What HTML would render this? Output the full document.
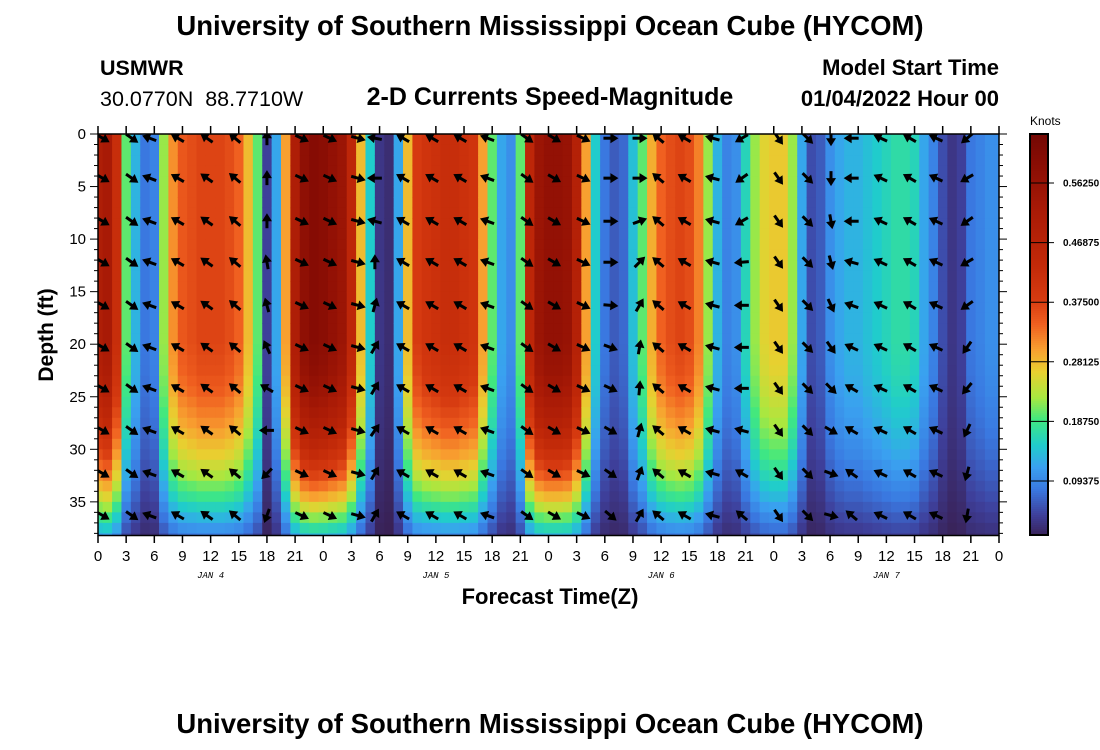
<!DOCTYPE html>
<html><head><meta charset="utf-8"><style>
body{margin:0;background:#fff;width:1100px;height:750px;overflow:hidden;font-family:"Liberation Sans",sans-serif}
svg{display:block}
</style></head><body>
<svg id="c" width="1100" height="750" font-family="Liberation Sans, sans-serif">
<text x="550" y="35" text-anchor="middle" font-size="27.5" font-weight="bold">University of Southern Mississippi Ocean Cube (HYCOM)</text>
<text x="100" y="75" font-size="21.5" font-weight="bold">USMWR</text>
<text x="100" y="106" font-size="21.5" xml:space="preserve" style="white-space:pre">30.0770N  88.7710W</text>
<text x="550" y="105" text-anchor="middle" font-size="25" font-weight="bold">2-D Currents Speed-Magnitude</text>
<text x="999" y="75" text-anchor="end" font-size="22" font-weight="bold">Model Start Time</text>
<text x="999" y="106" text-anchor="end" font-size="22" font-weight="bold">01/04/2022 Hour 00</text>
<text transform="translate(53,335) rotate(-90)" text-anchor="middle" font-size="21" font-weight="bold">Depth (ft)</text>
<text x="550" y="604" text-anchor="middle" font-size="22" font-weight="bold">Forecast Time(Z)</text>
<text x="1030" y="125" font-size="12">Knots</text>
<text x="550" y="733" text-anchor="middle" font-size="27.5" font-weight="bold">University of Southern Mississippi Ocean Cube (HYCOM)</text>
<defs><clipPath id="pc"><rect x="98" y="134" width="901" height="401.5"/></clipPath></defs>
<g id="heat" clip-path="url(#pc)"></g>
<g id="arrows" clip-path="url(#pc)"></g>
<g id="axes"></g>
<g id="cbar"></g>
</svg>
<script>
// hourly speed (knots) at mid depth, hours 0..96
const speeds=[.50,.52,.42,.2,.13,.08,.09,.22,.31,.35,.36,.37,.37,.37,.36,.34,.28,.2,.04,.12,.3,.5,.58,.6,.59,.57,.55,.45,.28,.15,.03,.02,.12,.28,.38,.40,.41,.42,.42,.41,.40,.30,.2,.12,.1,.2,.45,.55,.57,.57,.56,.48,.3,.15,.08,.06,.07,.14,.2,.29,.34,.36,.37,.36,.32,.22,.13,.09,.1,.16,.22,.26,.27,.27,.22,.12,.05,.06,.1,.12,.13,.13,.14,.15,.16,.17,.17,.16,.12,.09,.05,.03,.04,.08,.09,.1,.1];
// depth attenuation per 1 ft (0..38)
const depthFactor=[1,1,1,1,1,1,1,1,1,1,1,1,1,1,1,1,1,1,1,1,.99,.98,.97,.95,.93,.9,.87,.84,.8,.76,.72,.67,.62,.56,.5,.43,.36,.29,.22];
// arrow columns (forecast hour) and directions (deg, 0=east, 90=south)
const arrowHours=[0.5,3.6,5.5,8.5,11.6,14.6,18,21.7,24.7,27.7,29.5,32.5,35.6,38.6,41.5,45.7,48.6,51.7,54.6,57.7,59.7,62.5,65.5,68.6,72.5,75.6,78.1,80.3,83.4,86.5,89.3,92.6];
const arrowDepths=[0.4,4.2,8.3,12.2,16.3,20.3,24.2,28.2,32.3,36.3];
const arrowDirs=[30,35,-160,-150,-145,-140,[-90,-90,-90,-100,-105,-115,-150,180,135,110],25,25,15,[-170,180,-165,-90,-75,-60,-60,-55,-60,-60],-150,-150,-150,-160,35,30,25,[0,0,0,0,5,20,25,30,35,40],[0,0,-20,-45,-60,-80,-85,-75,-70,-60],-140,-150,-165,[150,145,150,175,180,180,180,-165,-150,-140],55,45,[90,90,80,75,65,55,45,30,20,15],[180,180,180,-165,-160,-155,-150,-150,-145,-140],-155,-150,-155,[140,150,145,150,145,125,130,115,105,100]];
const xTickLabels=["0","3","6","9","12","15","18","21"];
const dayLabels=["JAN 4","JAN 5","JAN 6","JAN 7"];
const yTicks=[0,5,10,15,20,25,30,35];
const cbarTicks=[0.09375,0.1875,0.28125,0.375,0.46875,0.5625];

const NS='http://www.w3.org/2000/svg';
const X=h=>98+h*901/96, Y=d=>134+d*10.51;
const CB0=540.6, CBK=59.6/0.09375; const CBY=v=>CB0-v*CBK;
const stops=[[0,'#381c4a'],[.04,'#3e3f9a'],[.08,'#3a78e0'],[.115,'#3aa0f0'],[.15,'#20cccc'],[.19,'#40e880'],[.225,'#a8e840'],[.265,'#e8d030'],[.30,'#f8a030'],[.34,'#f06020'],[.38,'#d63a10'],[.44,'#c02808'],[.52,'#a81a06'],[.6,'#860c04'],[.66,'#6a0604']];
function hx(s){return [1,3,5].map(i=>parseInt(s.substr(i,2),16));}
function col(v){v=Math.max(0,Math.min(.66,v));for(let i=1;i<stops.length;i++){if(v<=stops[i][0]){const a=stops[i-1],b=stops[i],t=(v-a[0])/(b[0]-a[0]);const ca=hx(a[1]),cb=hx(b[1]);return 'rgb('+ca.map((c,k)=>Math.round(c+(cb[k]-c)*t)).join(',')+')';}}return stops[stops.length-1][1];}
function mk(tag,at,p){const e=document.createElementNS(NS,tag);for(const k in at)e.setAttribute(k,at[k]);p.appendChild(e);return e;}
const heat=document.getElementById('heat');
speeds.forEach((s,h)=>{depthFactor.forEach((f,d)=>{
 const r=mk('rect',{x:X(h-0.5),y:Y(d),width:901/96+0.6,height:10.51+0.6,fill:col(s*f)},heat);
 
 
});});
const ar=document.getElementById('arrows');
arrowHours.forEach((h,i)=>{arrowDepths.forEach((d,j)=>{
 const a=Array.isArray(arrowDirs[i])?arrowDirs[i][j]:arrowDirs[i];
 const g=mk('g',{transform:`translate(${X(h)},${Y(d)}) rotate(${a})`},ar);
 
 
 mk('line',{x1:-7,y1:0,x2:2,y2:0,stroke:'#000','stroke-width':3},g);
 mk('polygon',{points:'8,0 0,-5 0,5',fill:'#000'},g);
});});
const ax=document.getElementById('axes');
mk('rect',{x:98,y:134,width:901,height:401.5,fill:'none',stroke:'#000','stroke-width':1.5},ax);
for(let k=0;k<=32;k++){const x=X(k*3);
 mk('line',{x1:x,y1:535.5,x2:x,y2:543,stroke:'#000','stroke-width':1.5},ax);
 mk('line',{x1:x,y1:134,x2:x,y2:126,stroke:'#000','stroke-width':1.5},ax);
 const t=mk('text',{x:x,y:561,'text-anchor':'middle','font-size':15},ax);t.textContent=xTickLabels[k%8];
 
 
}
dayLabels.forEach((l,i)=>{const t=mk('text',{x:X(i*24+12),y:578,'text-anchor':'middle','font-size':9,'font-style':'italic','font-family':'Liberation Mono, monospace'},ax);t.textContent=l;
 
 });
for(let d=0;d<=38;d++){const y=Y(d),L=d%5==0?8:4;
 mk('line',{x1:98-L,y1:y,x2:98,y2:y,stroke:'#000','stroke-width':1},ax);
 mk('line',{x1:999,y1:y,x2:999+L,y2:y,stroke:'#000','stroke-width':1},ax);}
yTicks.forEach(v=>{const t=mk('text',{x:86,y:Y(v)+5,'text-anchor':'end','font-size':15},ax);t.textContent=v;
 
 });
const cb=document.getElementById('cbar');
for(let y=135;y<535;y+=2){mk('rect',{x:1030,y:y,width:18,height:2.5,fill:col((CB0-y-1)/CBK)},cb);}
mk('rect',{x:1030,y:134,width:18,height:401,fill:'none',stroke:'#000','stroke-width':2},cb);
cbarTicks.forEach(v=>{const y=CBY(v);mk('line',{x1:1030,y1:y,x2:1054,y2:y,stroke:'#000','stroke-width':1},cb);
 const t=mk('text',{x:1063,y:y+3.5,'font-size':10,'font-weight':'bold'},cb);t.textContent=v.toFixed(5);
 
 });
</script>
</body></html>
